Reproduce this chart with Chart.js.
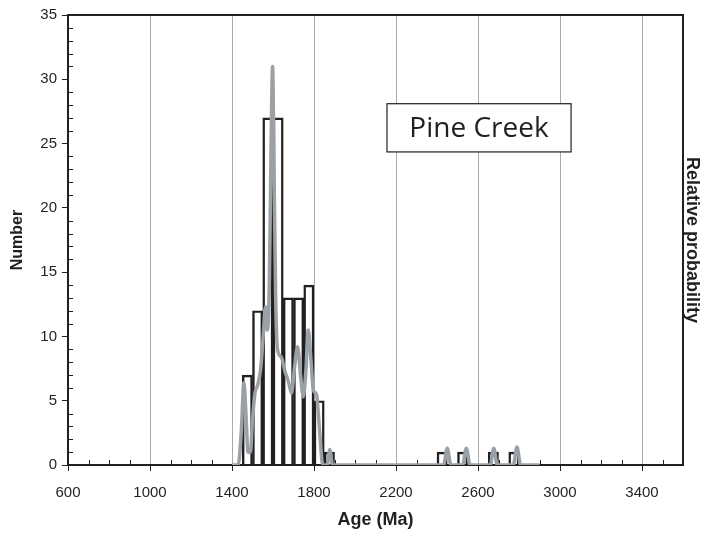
<!DOCTYPE html>
<html>
<head>
<meta charset="utf-8">
<script src="https://cdn.jsdelivr.net/npm/chart.js@4.4.1/dist/chart.umd.min.js"></script>
<style>
  html, body { margin: 0; padding: 0; background: #fff; }
</style>
</head>
<body>
<canvas id="graph" width="707" height="533"></canvas>
<script>
// histogram: 50 Ma bins (centres) and counts
const binCentres = [1475, 1525, 1575, 1625, 1675, 1725, 1775, 1825, 1875, 2425, 2525, 2675, 2775];
const binCounts = [7, 12, 27, 27, 13, 13, 14, 5, 1, 1, 1, 1, 1];

// relative probability curve in "Number" units
const probAges = [1400, 1430, 1445, 1458, 1468, 1478, 1490, 1500, 1512, 1525, 1540, 1553, 1563, 1572,
  1582, 1590, 1598, 1605, 1613, 1622, 1640, 1658, 1675, 1690, 1705, 1720, 1735, 1748, 1760, 1772,
  1785, 1797, 1812, 1828, 1840, 1850, 1864, 1877, 1890, 2432, 2450, 2468, 2525, 2543, 2561,
  2660, 2677, 2694, 2772, 2790, 2808, 2900];
const probValues = [0, 0, 2.5, 6.4, 4, 1.0, 1.0, 3.5, 5.6, 6.2, 7.5, 10.2, 12.3, 10.5,
  14, 24, 31, 23, 13, 9.0, 8.4, 7.3, 6.5, 5.6, 7.6, 9.2, 6.9, 5.3, 7.2, 10.5,
  8.2, 5.8, 5.5, 2.5, 0.2, 0, 0, 1.2, 0, 0, 1.3, 0, 0, 1.3, 0,
  0, 1.3, 0, 0, 1.4, 0, 0];

// axis ticks
const ageTicks = [600, 1000, 1400, 1800, 2200, 2600, 3000, 3400, 3600];
const numTicks = [0, 5, 10, 15, 20, 25, 30, 35];
const ageMin = 600, ageMax = 3600, ageStep = 400, ageMinor = 100;
const numMin = 0, numMax = 35, numStep = 5, numMinor = 1;
const sampleName = "Pine Creek";

const INK = "#231f20";
const GRID = "#a7abae";
const CURVE = "#9aa1a6";
const FONT = "'Liberation Sans', Arial, sans-serif";

// frame, inner minor ticks and the sample label
const extras = {
  id: "extras",
  beforeDatasetsDraw(chart) {
    const { ctx, chartArea: a, scales } = chart;
    const x = scales.x, y = scales.y;
    ctx.save();
    ctx.strokeStyle = INK;
    ctx.lineWidth = 1;
    ctx.beginPath();
    for (let v = ageMin + ageMinor; v < ageMax; v += ageMinor) {
      if ((v - ageMin) % ageStep === 0) continue;
      const px = Math.round(x.getPixelForValue(v)) + 0.5;
      ctx.moveTo(px, a.bottom);
      ctx.lineTo(px, a.bottom - 5);
    }
    for (let v = numMin + numMinor; v < numMax; v += numMinor) {
      if (v % numStep === 0) continue;
      const py = Math.round(y.getPixelForValue(v)) + 0.5;
      ctx.moveTo(a.left, py);
      ctx.lineTo(a.left + 5, py);
    }
    ctx.stroke();
    ctx.lineWidth = 2;
    ctx.strokeRect(a.left, a.top, a.right - a.left, a.bottom - a.top);
    ctx.restore();
  },
  afterDatasetsDraw(chart) {
    const { ctx, scales } = chart;
    const x = scales.x, y = scales.y;
    const l = x.getPixelForValue(2156), r = x.getPixelForValue(3054);
    const t = y.getPixelForValue(28.1), b = y.getPixelForValue(24.35);
    ctx.save();
    ctx.fillStyle = "#fff";
    ctx.fillRect(l, t, r - l, b - t);
    ctx.strokeStyle = INK;
    ctx.lineWidth = 1.2;
    ctx.strokeRect(l, t, r - l, b - t);
    ctx.fillStyle = INK;
    ctx.font = "28px 'Open Sans', 'Noto Sans', sans-serif";
    ctx.textAlign = "center";
    ctx.textBaseline = "middle";
    ctx.fillText(sampleName, (l + r) / 2, (t + b) / 2 + 1);
    ctx.restore();
  }
};

const data = {
  datasets: [
    {
      type: "line",
      data: probAges.map((a, i) => ({ x: a, y: probValues[i] })),
      borderColor: CURVE,
      borderWidth: 3.5,
      pointRadius: 0,
      cubicInterpolationMode: "monotone",
      fill: false,
      order: 0
    },
    {
      type: "bar",
      data: binCentres.map((c, i) => ({ x: c, y: binCounts[i] })),
      backgroundColor: "rgba(0,0,0,0)",
      borderColor: INK,
      borderWidth: 1.8,
      barPercentage: 1,
      categoryPercentage: 1,
      order: 1
    }
  ]
};

const options = {
  responsive: false,
  animation: false,
  layout: { padding: { top: 15, left: 0, right: 0, bottom: 0 } },
  plugins: { legend: { display: false }, tooltip: { enabled: false } },
  scales: {
    x: {
      type: "linear",
      position: "bottom",
      min: ageMin,
      max: ageMax,
      offset: false,
      afterBuildTicks: s => { s.ticks = ageTicks.map(v => ({ value: v })); },
      ticks: {
        autoSkip: false,
        maxRotation: 0,
        color: INK,
        font: { family: FONT, size: 15 },
        padding: 13,
        callback: v => (v < ageMax ? v : "")
      },
      grid: {
        offset: false,
        color: c => (c.tick && c.tick.value > ageMin && c.tick.value < ageMax ? GRID : "rgba(0,0,0,0)"),
        tickColor: c => (c.tick && c.tick.value < ageMax ? INK : "rgba(0,0,0,0)"),
        tickLength: 6,
        lineWidth: 1
      },
      border: { color: INK, width: 2 },
      title: {
        display: true,
        text: "Age (Ma)",
        color: INK,
        font: { family: FONT, size: 18, weight: "bold" },
        padding: { top: 4, bottom: 2 }
      },
      afterFit: s => { s.height = 68; }
    },
    y: {
      position: "left",
      min: numMin,
      max: numMax,
      afterBuildTicks: s => { s.ticks = numTicks.map(v => ({ value: v })); },
      ticks: {
        color: INK,
        font: { family: FONT, size: 15 },
        padding: 5
      },
      grid: { drawOnChartArea: false, tickLength: 6, tickColor: INK },
      border: { color: INK, width: 2 },
      title: {
        display: true,
        text: "Number",
        color: INK,
        font: { family: FONT, size: 16, weight: "bold" },
        padding: { top: 8, bottom: 4 }
      },
      afterFit: s => { s.width = 68; }
    },
    y2: {
      position: "right",
      min: numMin,
      max: numMax,
      ticks: { display: false },
      grid: { display: false },
      border: { display: false },
      title: {
        display: true,
        text: "Relative probability",
        color: INK,
        font: { family: FONT, size: 18, weight: "bold" },
        padding: { top: 4, bottom: 4 }
      },
      afterFit: s => { s.width = 24; }
    }
  }
};

new Chart(document.getElementById("graph"), {
  type: "bar",
  data: data,
  options: options,
  plugins: [extras]
});
</script>
</body>
</html>
